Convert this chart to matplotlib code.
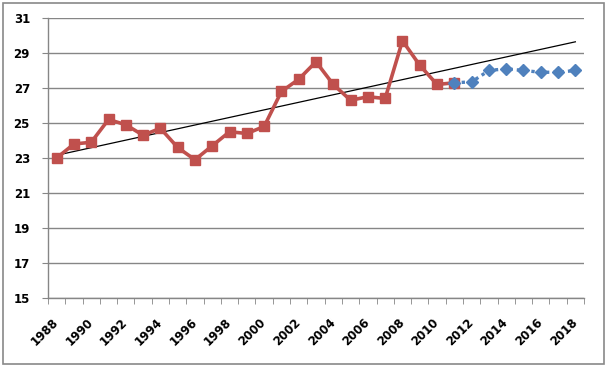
import matplotlib
matplotlib.use("Agg")
import matplotlib.pyplot as plt
from matplotlib.patches import Rectangle
import numpy as np

years = list(range(1988, 2019))
actual_years = list(range(1988, 2012))
actual = [23.0, 23.8, 23.9, 25.2, 24.9, 24.3, 24.7, 23.6, 22.9, 23.7, 24.5, 24.4,
          24.8, 26.8, 27.5, 28.5, 27.2, 26.3, 26.5, 26.4, 29.7, 28.3, 27.2, 27.3]
forecast_years = list(range(2011, 2019))
forecast = [27.3, 27.35, 28.0, 28.1, 28.0, 27.9, 27.9, 28.0]
yticks = [15, 17, 19, 21, 23, 25, 27, 29, 31]
xlabels = [str(y) for y in range(1988, 2019, 2)]

red = "#C0504D"
blue = "#4F81BD"
grid = "#868686"

plt.rcParams['font.family'] = ['DejaVu Sans']

fig = plt.figure(figsize=(6.07, 3.68), dpi=100)
fig.patches.append(Rectangle((3/607, 4/368), 601/607, 361/368, transform=fig.transFigure,
                             fill=False, edgecolor="#898989", linewidth=1.2))
ax = fig.add_axes([48/607, 70/368, 536/607, 280/368])

idx = {y: i for i, y in enumerate(years)}
ax_x = [idx[y] for y in actual_years]
fx = [idx[y] for y in forecast_years]

# trend line: linear fit of observed series extended over whole axis
coef = np.polyfit(ax_x, actual, 1)
tx = np.array([0, len(years) - 1])
ax.plot(tx, np.polyval(coef, tx), color="black", lw=0.9, zorder=3)

ax.plot(ax_x, actual, color=red, lw=2.6, marker="s", markersize=7.5, zorder=4)
ax.plot(fx, forecast, color=blue, lw=2.4, ls=(0, (1, 1.2)), marker="D", markersize=6.5, zorder=5)

ax.set_ylim(15, 31)
ax.set_yticks(yticks)
ax.set_yticklabels([str(v) for v in yticks], fontsize=8.5, fontweight="bold")
ax.set_xlim(-0.5, len(years) - 0.5)
ax.set_xticks([idx[int(s)] for s in xlabels])
ax.set_xticklabels(xlabels, rotation=45, ha="right", va="center", rotation_mode="anchor",
                   fontsize=8.5, fontweight="bold")
ax.tick_params(axis="x", length=0, pad=16)
ax.set_xticks(np.arange(-0.5, len(years), 1), minor=True)
ax.tick_params(axis="x", which="minor", length=4, color=grid, direction="out")
ax.tick_params(axis="y", length=4, color=grid, pad=9)

ax.yaxis.grid(True, color=grid, lw=1)
ax.set_axisbelow(True)
for s in ["top", "right"]:
    ax.spines[s].set_visible(False)
for s in ["left", "bottom"]:
    ax.spines[s].set_color(grid)
    ax.spines[s].set_linewidth(1)

fig.savefig("out.png", dpi=100)
